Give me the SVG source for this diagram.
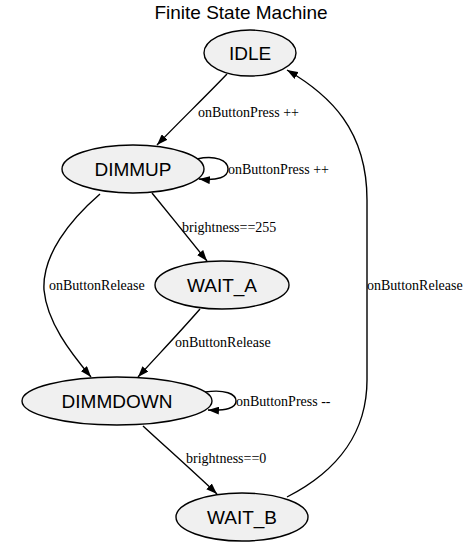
<svg xmlns="http://www.w3.org/2000/svg" width="474" height="547" viewBox="0 0 474 547">
<style>
.node ellipse{fill:#f0f0f0;stroke:#000;stroke-width:1.4}
.node text{font-family:"Liberation Sans",Arial,sans-serif;font-size:19px;text-anchor:middle;fill:#000}
.edge path{fill:none;stroke:#000;stroke-width:1.4;marker-end:url(#ah)}
.lbl{font-family:"Liberation Serif","Times New Roman",serif;font-size:14px;fill:#000}
.title{font-family:"Liberation Sans",Arial,sans-serif;font-size:19px;text-anchor:middle;fill:#000}
</style>
<defs>
<marker id="ah" markerUnits="userSpaceOnUse" markerWidth="11" markerHeight="8" refX="11" refY="4" orient="auto">
<path d="M0,0 L11,4 L0,8 z" fill="#000"/>
</marker>
</defs>
<rect width="474" height="547" fill="#fff"/>
<text class="title" x="241" y="19">Finite State Machine</text>
<g id="edges" class="edge">
<path d="M227,74 C205,97 180,121 157,145"/>
<path d="M197,159 C215,155 228,160 228,169 C228,177 218,181 199,179"/>
<path d="M152,193 C170,215 190,240 207,261"/>
<path d="M100,194 C70,220 42,255 44,290 C47,322 70,352 91,377"/>
<path d="M200,309 C180,332 158,355 138,377"/>
<path d="M205,392 C225,389 236,394 236,401 C236,408 226,411 208,410"/>
<path d="M143,426 C168,449 195,473 217,494"/>
<path d="M287,497 C340,470 367,430 367,380 L367,200 C367,130 330,95 287,70"/>
<text class="lbl" x="198" y="117">onButtonPress ++</text>
<text class="lbl" x="228" y="174">onButtonPress ++</text>
<text class="lbl" x="182" y="232">brightness==255</text>
<text class="lbl" x="49" y="290">onButtonRelease</text>
<text class="lbl" x="367" y="290">onButtonRelease</text>
<text class="lbl" x="175" y="347">onButtonRelease</text>
<text class="lbl" x="236" y="406">onButtonPress --</text>
<text class="lbl" x="186" y="463">brightness==0</text>
</g>
<g id="IDLE" class="node"><ellipse cx="250" cy="53" rx="46" ry="23"/><text x="250" y="60">IDLE</text></g>
<g id="DIMMUP" class="node"><ellipse cx="133" cy="169" rx="71" ry="24"/><text x="133" y="176">DIMMUP</text></g>
<g id="WAIT_A" class="node"><ellipse cx="222" cy="285" rx="67" ry="24"/><text x="222" y="292">WAIT_A</text></g>
<g id="DIMMDOWN" class="node"><ellipse cx="117" cy="401" rx="95" ry="24"/><text x="117" y="408">DIMMDOWN</text></g>
<g id="WAIT_B" class="node"><ellipse cx="242" cy="517" rx="66" ry="24"/><text x="242" y="524">WAIT_B</text></g>
</svg>
